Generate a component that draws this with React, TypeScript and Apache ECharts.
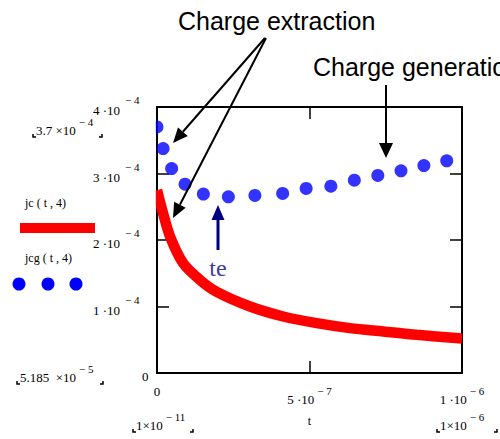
import React, { useEffect, useRef } from "react";
import * as echarts from "echarts";

// jc(t,4): charge extraction current (red thick line)
const jcT = [0, 2e-8, 4.3e-8, 8.6e-8, 1.41e-7, 1.96e-7, 3.05e-7, 4.14e-7, 5.24e-7, 6.33e-7, 7.42e-7, 8.51e-7, 1e-6];
const jcValues = [2.75e-4, 2.4e-4, 2.05e-4, 1.65e-4, 1.4e-4, 1.22e-4, 1.0e-4, 0.85e-4, 0.75e-4, 0.675e-4, 0.625e-4, 0.575e-4, 0.52e-4];

// jcg(t,4): generation current (blue dots)
const jcgT = [0, 2e-8, 4.8e-8, 9.2e-8, 1.52e-7, 2.34e-7, 3.21e-7, 4.12e-7, 4.89e-7, 5.7e-7, 6.47e-7, 7.24e-7, 8.0e-7, 8.75e-7, 9.5e-7];
const jcgValues = [3.7e-4, 3.375e-4, 3.075e-4, 2.84e-4, 2.69e-4, 2.65e-4, 2.67e-4, 2.7e-4, 2.775e-4, 2.81e-4, 2.9e-4, 2.97e-4, 3.04e-4, 3.12e-4, 3.19e-4];

// tick labels ("^" marks the superscript)
const xTickLabels = ["0", "5 ·10^− 7", "1 ·10^− 6"];
const yTickMantissa = ["", "1 ·10", "2 ·10", "3 ·10", "4 ·10"];
const yTickExponent = ["0", "− 4", "− 4", "− 4", "− 4"];

const SERIF = "'Liberation Serif', 'Times New Roman', serif";
const SANS = "'Liberation Sans', Arial, sans-serif";

const rich = {
  m: { fontFamily: SERIF, fontSize: 13, lineHeight: 13, color: "#000", verticalAlign: "bottom" },
  s: { fontFamily: SERIF, fontSize: 11, lineHeight: 21, color: "#000", verticalAlign: "top", padding: [0, 0, 0, 3] },
};

const yMainRich = {
  m: { fontFamily: SERIF, fontSize: 13, lineHeight: 13, color: "#000", padding: [7, 0, 0, 0] },
};
const yExpRich = {
  z: { fontFamily: SERIF, fontSize: 13, lineHeight: 13, color: "#000", padding: [7, 0, 0, 17] },
  s: { fontFamily: SERIF, fontSize: 11, lineHeight: 11, color: "#000", padding: [0, 0, 14, 0] },
};

function fmt(s: string) {
  const p = s.split("^");
  if (p.length === 1) return `{m|${p[0]}}`;
  return `{m|${p[0]}}{s|${p[1]}}`;
}

function arrow(x1: number, y1: number, x2: number, y2: number, color: string, len: number, hw: number, lw: number) {
  const dx = x2 - x1, dy = y2 - y1;
  const L = Math.sqrt(dx * dx + dy * dy);
  const ux = dx / L, uy = dy / L;
  const bx = x2 - ux * len, by = y2 - uy * len;
  const px = -uy * hw, py = ux * hw;
  return [
    { type: "line", z: 100, shape: { x1, y1, x2: bx, y2: by }, style: { stroke: color, lineWidth: lw } },
    { type: "polygon", z: 100, shape: { points: [[x2, y2], [bx + px, by + py], [bx - px, by - py]] }, style: { fill: color } },
  ];
}

function corners(xl: number, xr: number, y: number) {
  return [
    { type: "polyline", z: 100, shape: { points: [[xl, y - 3], [xl, y], [xl + 3, y]] }, style: { stroke: "#000", lineWidth: 1.5, fill: null } },
    { type: "polyline", z: 100, shape: { points: [[xr - 3, y], [xr, y], [xr, y - 3]] }, style: { stroke: "#000", lineWidth: 1.5, fill: null } },
  ];
}

function richText(x: number, y: number, s: string) {
  return {
    type: "text",
    z: 100,
    style: {
      x, y, text: fmt(s), rich, fontFamily: SERIF, fontSize: 13, fill: "#000",
      verticalAlign: "bottom", textVerticalAlign: "bottom", align: "left", textAlign: "left",
    },
  };
}

function plainText(x: number, y: number, text: string, fontSize: number, fontFamily: string, fill: string, align = "left") {
  return {
    type: "text",
    z: 100,
    style: { x, y, text, fontSize, fontFamily, fill, align, textAlign: align, verticalAlign: "middle", textVerticalAlign: "middle" },
  };
}

export default function App() {
  const ref = useRef<HTMLDivElement>(null);
  useEffect(() => {
    if (!ref.current) return;
    const chart = echarts.init(ref.current, undefined, { renderer: "svg" });
    const frameLine = { show: true, onZero: false, lineStyle: { color: "#000", width: 2 } };
    const tick = { show: true, inside: true, length: 12, lineStyle: { color: "#000", width: 1.5 } };
    const yBase = { type: "value", min: 0, max: 4e-4, interval: 1e-4, splitLine: { show: false } };
    const option: any = {
      animation: false,
      backgroundColor: "#fff",
      grid: { left: 157, right: 38, top: 107, bottom: 66 },
      xAxis: [
        {
          type: "value", min: 0, max: 1e-6, interval: 5e-7, position: "bottom",
          axisLine: frameLine, axisTick: tick, splitLine: { show: false },
          axisLabel: {
            margin: 12, fontFamily: SERIF, fontSize: 13, color: "#000",
            formatter: (_v: number, i: number) => fmt(xTickLabels[i] ?? ""), rich,
          },
          name: "t", nameLocation: "middle", nameGap: 42,
          nameTextStyle: { fontFamily: SERIF, fontSize: 12, color: "#000" },
        },
        {
          type: "value", min: 0, max: 1e-6, interval: 5e-7, position: "top",
          axisLine: frameLine, axisTick: tick, splitLine: { show: false }, axisLabel: { show: false },
        },
      ],
      yAxis: [
        {
          ...yBase, position: "left",
          axisLine: frameLine, axisTick: tick,
          axisLabel: {
            margin: 64, align: "left", verticalAlign: "middle", fontFamily: SERIF, fontSize: 13, color: "#000",
            formatter: (_v: number, i: number) => (yTickMantissa[i] ? `{m|${yTickMantissa[i]}}` : ""),
            rich: yMainRich,
          },
        },
        {
          ...yBase, position: "right",
          axisLine: frameLine, axisTick: tick, axisLabel: { show: false },
        },
        {
          ...yBase, position: "left", offset: 0,
          axisLine: { show: false }, axisTick: { show: false },
          axisLabel: {
            margin: 32, align: "left", verticalAlign: "middle", fontFamily: SERIF, fontSize: 11, color: "#000",
            formatter: (_v: number, i: number) => (i === 0 ? `{z|${yTickExponent[i]}}` : `{s|${yTickExponent[i] ?? ""}}`),
            rich: yExpRich,
          },
        },
      ],
      series: [
        {
          name: "jc(t,4)", type: "line", xAxisIndex: 0, yAxisIndex: 0,
          data: jcT.map((t, i) => [t, jcValues[i]]),
          smooth: 0.3, showSymbol: false, symbol: "none", clip: true,
          lineStyle: { color: "#ff0000", width: 10.5 }, z: 2,
        },
        {
          name: "jcg(t,4)", type: "scatter", xAxisIndex: 0, yAxisIndex: 0,
          data: jcgT.map((t, i) => [t, jcgValues[i]]),
          symbol: "circle", symbolSize: 13, itemStyle: { color: "#0000ff" }, z: 3,
        },
      ],
      graphic: {
        elements: [
          // hide the part of the dots left of the frame
          { type: "rect", z: 100, shape: { x: 149, y: 100, width: 6.8, height: 260 }, style: { fill: "#fff" } },
          plainText(178, 21, "Charge extraction", 25, SANS, "#000"),
          plainText(313, 67, "Charge generation", 25, SANS, "#000"),
          ...arrow(265, 38, 173, 143, "#000", 15, 6.5, 2),
          ...arrow(266, 38, 173, 218, "#000", 15, 6.5, 2),
          ...arrow(386, 85, 386, 158, "#000", 15, 7, 2),
          ...arrow(218, 250, 218, 205, "#000080", 15, 6.5, 3),
          plainText(218, 268, "te", 24, SERIF, "#3c3ca8", "center"),
          // left side legend/labels
          richText(36, 137, "3.7 ×10^− 4"),
          ...corners(33, 102, 137),
          plainText(25, 203, "jc ( t , 4)", 12, SERIF, "#000"),
          { type: "rect", z: 100, shape: { x: 20, y: 223, width: 75, height: 10 }, style: { fill: "#ff0000" } },
          plainText(25, 258, "jcg ( t , 4)", 12, SERIF, "#000"),
          { type: "circle", z: 100, shape: { cx: 19, cy: 284, r: 6.5 }, style: { fill: "#0000ff" } },
          { type: "circle", z: 100, shape: { cx: 48, cy: 284, r: 6.5 }, style: { fill: "#0000ff" } },
          { type: "circle", z: 100, shape: { cx: 76, cy: 284, r: 6.5 }, style: { fill: "#0000ff" } },
          richText(20, 384, "5.185  ×10^− 5"),
          ...corners(17, 103, 384),
          richText(136, 432, "1×10^− 11"),
          ...corners(133, 193, 432),
          richText(440, 432, "1×10^− 6"),
          ...corners(437, 497, 432),
        ],
      },
    };
    chart.setOption(option);
    return () => chart.dispose();
  }, []);
  return <div ref={ref} style={{ width: 500, height: 439, position: "absolute", left: 0, top: 0 }} />;
}
